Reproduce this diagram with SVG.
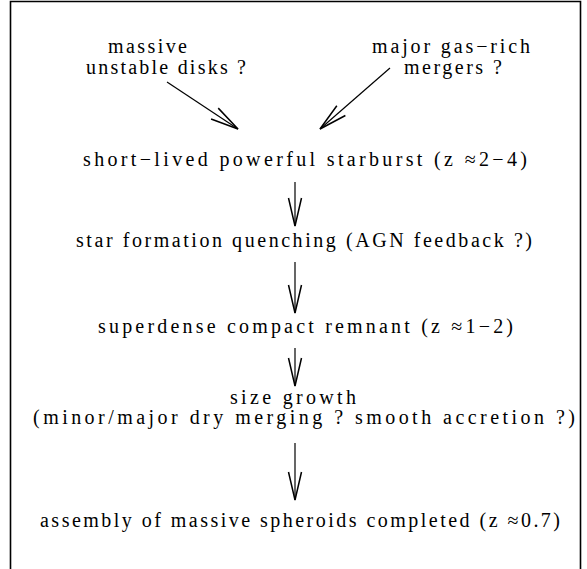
<svg xmlns="http://www.w3.org/2000/svg" width="587" height="569" viewBox="0 0 587 569">
<defs>
<style>
text{font-family:"Liberation Serif","Times New Roman",serif;font-size:20px;fill:#000}
.c{stroke:#000;stroke-width:1.2;fill:none}
</style>
<marker id="ah" markerUnits="userSpaceOnUse" markerWidth="40" markerHeight="20" viewBox="-30 -10 40 20" refX="0" refY="0" orient="auto">
<path d="M-28,-6.5 L0,0 L-28,6.5" fill="none" stroke="#000" stroke-width="1.5"/>
</marker>
</defs>
<rect width="587" height="569" fill="#fff"/>
<path d="M10.5,569 V1.5 H580.5 V569" fill="none" stroke="#000" stroke-width="1.6"/>
<g id="n-disks">
<text x="108" y="53" textLength="79" lengthAdjust="spacing">massive</text>
<text x="86" y="74" textLength="160" lengthAdjust="spacing">unstable disks ?</text>
</g>
<g id="n-mergers">
<text x="372" y="53" textLength="158" lengthAdjust="spacing">major gas−rich</text>
<text x="404" y="74" textLength="98" lengthAdjust="spacing">mergers ?</text>
</g>
<g id="n-starburst">
<text x="83" y="166" textLength="444" lengthAdjust="spacing">short−lived powerful starburst (z ≈2−4)</text>
</g>
<g id="n-quenching">
<text x="76" y="247" textLength="456" lengthAdjust="spacing">star formation quenching (AGN feedback ?)</text>
</g>
<g id="n-remnant">
<text x="98" y="333" textLength="415" lengthAdjust="spacing">superdense compact remnant (z ≈1−2)</text>
</g>
<g id="n-growth">
<text x="230" y="404" textLength="126" lengthAdjust="spacing">size growth</text>
<text x="33" y="424" textLength="542" lengthAdjust="spacing">(minor/major dry merging ? smooth accretion ?)</text>
</g>
<g id="n-assembly">
<text x="40" y="527" textLength="520" lengthAdjust="spacing">assembly of massive spheroids completed (z ≈0.7)</text>
</g>
<g id="connectors">
<line class="c" x1="167" y1="82" x2="238" y2="129" marker-end="url(#ah)"/>
<line class="c" x1="390" y1="68" x2="320" y2="129" marker-end="url(#ah)"/>
<line class="c" x1="295" y1="182" x2="295" y2="226" marker-end="url(#ah)"/>
<line class="c" x1="295" y1="262" x2="295" y2="313" marker-end="url(#ah)"/>
<line class="c" x1="295" y1="348" x2="295" y2="386" marker-end="url(#ah)"/>
<line class="c" x1="295" y1="443" x2="295" y2="500" marker-end="url(#ah)"/>
</g>
</svg>
